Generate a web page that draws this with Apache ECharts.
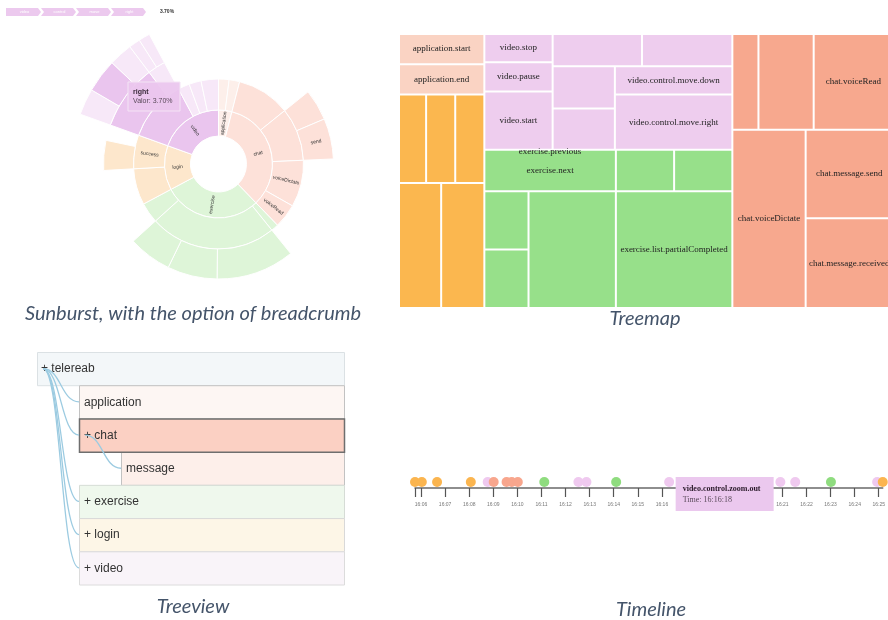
<!DOCTYPE html>
<html><head><meta charset="utf-8">
<script src="https://cdn.jsdelivr.net/npm/echarts@6/dist/echarts.min.js"></script>
<style>html,body{margin:0;padding:0;background:#fff;}#c{width:888px;height:620px;}</style>
</head><body><div id="c"></div>
<script>
// ---------------- DATA ----------------
// Sunburst: [name, share of events (%), children]
const sunApplication = ['application', 4.0, [['start', 2.0], ['end', 2.0]]];
const sunChat = ['chat', 33.8, [['', 10.2], ['message', 10.1, [['received', 4.4], ['send', 5.7]]], ['voiceDictate', 8.9], ['voiceRead', 4.6]]];
const sunExercise = ['exercise', 29.4, [['next', 1.4], ['list', 24.1, [['partialCompleted', 11.0], ['', 7.0], ['', 6.1]]], ['previous', 3.9]]];
const sunLogin = ['login', 13.3, [['', 6.9], ['success', 6.4, [['', 4.2]]]]];
const sunVideo = ['video', 19.5, [['control', 11.7, [['move', 9.2, [['left', 2.9], ['right', 3.7], ['down', 2.6]]], ['zoom', 2.5, [['in', 1.25], ['out', 1.25]]]]], ['stop', 2.2], ['pause', 2.3], ['start', 3.3]]];
const sunLabelled = ['application', 'chat', 'voiceDictate', 'voiceRead', 'send', 'exercise', 'login', 'success', 'video'];
const sunPath = ['video', 'control', 'move', 'right'];
const sunTipName = 'right';
const sunTipText = 'Valor: 3.70%';
const sunPathValue = '3.70%';

// Treemap: [name, value | children]
const tmApplication = ['application', [['application.start', 2550], ['application.end', 2550]]];
const tmLogin = ['login', [
  ['', [['', 2376], ['', [['', 2552], ['', 2552]]]]],
  ['', [['', 5208], ['', 5332]]]
]];
const tmVideo = ['video', [
  ['', [['', [['video.stop', 1904], ['video.pause', 1972]]], ['video.start', 3944]]],
  ['', [['', [['', 2848], ['', 2880]]], ['', [['', 2604], ['', 2542], ['video.control.move.down', 3276], ['video.control.move.right', 6435]]]]]
]];
const tmExercise = ['exercise', [
  ['', [['', [['exercise.previous', 1], ['exercise.next', 5370]]], ['', [['', 2378], ['', 2378]]]]],
  ['', [['', [['', 2552], ['', 2552], ['', 10092]]], ['exercise.list.partialCompleted', 13456]]]
]];
const tmChat = ['chat', [
  ['', [['', [['', 2470], ['', 5225]]], ['chat.voiceRead', 7505]]],
  ['', [['chat.voiceDictate', 12921], ['', [['chat.message.send', 7656], ['chat.message.received', 7743]]]]]
]];
const tmTinyLabels = ['exercise.previous'];

// Tree view
const treeNames = ['telereab', 'application', 'chat', 'message', 'exercise', 'login', 'video'];
const treeDepth = [0, 1, 1, 2, 1, 1, 1];
const treeParent = [-1, 0, 0, 2, 0, 0, 0];
const treeExpandable = [true, false, true, false, true, true, true];

// Timeline
const tlTimes = ['16:05:45','16:06:02','16:06:40','16:08:04','16:08:46','16:09:01','16:09:33','16:09:46','16:10:01','16:11:07','16:12:32','16:12:52','16:14:06','16:16:18','16:20:55','16:21:32','16:23:01','16:24:56','16:25:10'];
const tlCats = ['login','login','login','login','video','chat','chat','chat','chat','exercise','video','video','exercise','video','video','video','exercise','video','login'];
const tlDomain = ['16:05:45', '16:25:10'];
const tlTickLabels = ['16:06','16:07','16:08','16:09','16:10','16:11','16:12','16:13','16:14','16:15','16:16','16:17','16:18','16:19','16:20','16:21','16:22','16:23','16:24','16:25'];
const tlTipName = 'video.control.zoom.out';
const tlTipTime = '16:16:18';

const captions = ['Sunburst, with the option of breadcrumb', 'Treemap', 'Treeview', 'Timeline'];

// ---------------- STYLES ----------------
const sunPale = {application:'#fdefea', chat:'#fde1d9', exercise:'#def5d8', login:'#fde7cc', video:'#f7e8f8'};
const sunHighlight = '#eac5ee';
const tmColor = {application:'#fad3c3', login:'#fbb74f', video:'#eecdee', exercise:'#97e08a', chat:'#f7a88e'};
const tlColor = {login:'#fbb54f', chat:'#f8a68d', video:'#efc9ef', exercise:'#8fdc7f'};
const treeStyle = {
  telereab:{fill:'#f3f7f9', stroke:'#dbe1e4', lw:1, z:1},
  application:{fill:'#fdf6f3', stroke:'#c2c2c2', lw:1, z:1},
  chat:{fill:'#fbd0c3', stroke:'#6e6e6e', lw:1.5, z:5},
  message:{fill:'#fdefea', stroke:'#c2c2c2', lw:1, z:1},
  exercise:{fill:'#eff8ed', stroke:'#d6dcd6', lw:1, z:1},
  login:{fill:'#fdf6e7', stroke:'#d9d9d9', lw:1, z:1},
  video:{fill:'#f9f4f9', stroke:'#dcdcdc', lw:1, z:1}
};

// ---------------- BUILD ----------------
function sunNode(n, cat, depth, onPath) {
  const name = n[0], value = n[1], kids = n[2];
  const hl = onPath && name === sunPath[depth];
  const item = {
    name: name, value: value,
    itemStyle: {color: hl ? sunHighlight : sunPale[cat]},
    label: {show: sunLabelled.indexOf(name) >= 0 && name !== ''}
  };
  if (kids) item.children = kids.map(k => sunNode(k, cat, depth + 1, hl));
  return item;
}
const sunData = [sunApplication, sunChat, sunExercise, sunLogin, sunVideo]
  .map(n => sunNode(n, n[0], 0, true));

function tmNode(n) {
  const name = n[0], v = n[1];
  if (Array.isArray(v)) return {name: name, children: v.map(tmNode)};
  const o = {name: name, value: v};
  if (tmTinyLabels.indexOf(name) >= 0) o.label = {show: false};
  return o;
}
const tmData = [tmApplication, tmLogin, tmVideo, tmExercise, tmChat].map(c => ({
  name: c[0], itemStyle: {color: tmColor[c[0]]}, children: c[1].map(tmNode)
}));

function toMin(t) { const p = t.split(':').map(Number); return (p[0] - 16) * 60 + p[1] + (p[2] || 0) / 60; }
const tlLabelVals = tlTickLabels.map(toMin);
const tlTickVals = [toMin(tlDomain[0])].concat(tlLabelVals);

const treeBoxData = treeNames.map((n, i) => [treeDepth[i], i]);
const treeLinkData = [];
treeNames.forEach((n, i) => { if (treeParent[i] >= 0) treeLinkData.push([treeDepth[treeParent[i]], treeParent[i], treeDepth[i], i]); });

const captionFont = 'italic 20px Lato';
const capStyle = (t) => ({text:t, font:captionFont, fill:'#44546a', textAlign:'center', textVerticalAlign:'middle'});
const graphics = [
  {type:'text', x:193, y:314, style:capStyle(captions[0])},
  {type:'text', x:645, y:319, style:capStyle(captions[1])},
  {type:'text', x:193, y:607, style:capStyle(captions[2])},
  {type:'text', x:651, y:610, style:capStyle(captions[3])},
  // sunburst tooltip
  {type:'rect', shape:{x:128, y:82, width:52, height:29}, style:{fill:'rgba(234,197,238,0.92)', stroke:'#f4e4f5', lineWidth:1}, z:100},
  {type:'text', x:133, y:92, style:{text:sunTipName, font:'bold 7px "Liberation Sans"', fill:'#3a2a3a', textVerticalAlign:'middle'}, z:101},
  {type:'text', x:133, y:101, style:{text:sunTipText, font:'7px "Liberation Sans"', fill:'#5a4a5a', textVerticalAlign:'middle'}, z:101},
  // exercise.previous label (cell too thin to hold it)
  {type:'text', x:550, y:152, style:{text:tmTinyLabels[0], font:'9px "Liberation Serif"', fill:'#222', textAlign:'center', textVerticalAlign:'middle'}, z:100}
];
// breadcrumb
const bcX0 = 6, bcPitch = 35, bcW = 32, bcTip = 3, bcY = 8, bcH = 8;
sunPath.forEach((name, i) => {
  const x = bcX0 + i * bcPitch, y = bcY, w = bcW, h = bcH, t = bcTip;
  const pts = i === 0
    ? [[x,y],[x+w,y],[x+w+t,y+h/2],[x+w,y+h],[x,y+h]]
    : [[x,y],[x+w,y],[x+w+t,y+h/2],[x+w,y+h],[x,y+h],[x+t,y+h/2]];
  graphics.push({type:'polygon', shape:{points:pts}, style:{fill:'#ecc9ee'}, z:50});
  graphics.push({type:'text', x:x + (w + t) / 2 + 1, y:y + h / 2, style:{text:name, font:'4px "Liberation Sans"', fill:'#fff', textAlign:'center', textVerticalAlign:'middle'}, z:51});
});
graphics.push({type:'text', x:bcX0 + sunPath.length * bcPitch + 21, y:bcY + bcH / 2, style:{text:sunPathValue, font:'bold 5px "Liberation Sans"', fill:'#333', textAlign:'center', textVerticalAlign:'middle'}, z:51});

const chart = echarts.init(document.getElementById('c'), null, {renderer:'canvas'});
const option = {
  animation: false,
  backgroundColor: '#ffffff',
  grid: [
    {left:37, top:352, width:308, height:232.5},
    {left:415, top:476, width:470, height:12}
  ],
  xAxis: [
    {gridIndex:0, type:'value', min:0, max:308 / 42, show:false},
    {gridIndex:1, type:'value', min:toMin(tlDomain[0]), max:toMin(tlDomain[1]),
      axisLine:{show:true, onZero:false, lineStyle:{color:'#6a6a6a', width:1.5}},
      axisTick:{show:true, customValues:tlTickVals, length:9, lineStyle:{color:'#555', width:1.2}},
      axisLabel:{show:true, customValues:tlLabelVals, fontSize:5, color:'#777', margin:14,
        formatter:function (v) { for (let i = 0; i < tlLabelVals.length; i++) { if (Math.abs(tlLabelVals[i] - v) < 1e-6) return tlTickLabels[i]; } return ''; }},
      splitLine:{show:false}}
  ],
  yAxis: [
    {gridIndex:0, type:'value', min:0, max:treeNames.length, inverse:true, show:false},
    {gridIndex:1, type:'value', min:0, max:1, show:false}
  ],
  series: [
    {
      type:'sunburst', center:[218.5, 164], radius:[28, 147], sort:null, startAngle:90,
      nodeClick:false, silent:true, emphasis:{disabled:true},
      itemStyle:{borderColor:'#ffffff', borderWidth:1},
      label:{rotate:'radial', fontSize:5, color:'#333', fontFamily:'Liberation Sans'},
      levels:[{}, {r0:28, r:54}, {r0:54, r:85}, {r0:85, r:115}, {r0:115, r:147}],
      data: sunData
    },
    {
      type:'treemap', left:400, top:35, width:492, height:272, sort:false,
      roam:false, nodeClick:false, silent:true, breadcrumb:{show:false},
      emphasis:{disabled:true},
      itemStyle:{borderWidth:0, gapWidth:2, borderColor:'#ffffff'},
      label:{show:true, position:'inside', formatter:'{b}', color:'#222', fontFamily:'Liberation Serif', fontSize:9, overflow:'none', padding:0},
      upperLabel:{show:false},
      data: tmData
    },
    {
      type:'custom', xAxisIndex:0, yAxisIndex:0, z:2, silent:true,
      data: treeBoxData,
      renderItem: function (params, api) {
        const i = params.dataIndex;
        const d = api.value(0), r = api.value(1);
        const p0 = api.coord([d, r]), p1 = api.coord([d, r + 1]);
        const cs = params.coordSys;
        const right = cs.x + cs.width;
        const st = treeStyle[treeNames[i]];
        const label = (treeExpandable[i] ? '+ ' : '') + treeNames[i];
        return {type:'group', children:[
          {type:'rect', z2:st.z, shape:{x:p0[0] + 0.5, y:p0[1] + 0.5, width:right - p0[0] - 1, height:p1[1] - p0[1]},
            style:{fill:st.fill, stroke:st.stroke, lineWidth:st.lw}},
          {type:'text', z2:st.z + 1, style:{text:label, x:p0[0] + (d === 0 ? 4 : 5), y:(p0[1] + p1[1]) / 2 + 0.5,
            verticalAlign:'middle', font:'12px "Liberation Sans"', fill:'#333'}}
        ]};
      }
    },
    {
      type:'custom', xAxisIndex:0, yAxisIndex:0, z:3, silent:true,
      data: treeLinkData,
      renderItem: function (params, api) {
        const s = api.coord([api.value(0), api.value(1) + 0.5]);
        const e = api.coord([api.value(2), api.value(3) + 0.5]);
        const sx = s[0] + 6;
        const mx = (sx + e[0]) / 2;
        return {type:'bezierCurve', shape:{x1:sx, y1:s[1], x2:e[0], y2:e[1], cpx1:mx, cpy1:s[1], cpx2:mx, cpy2:e[1]},
          style:{stroke:'#9ccbe1', lineWidth:1.3, fill:'none'}};
      }
    },
    {
      type:'scatter', xAxisIndex:1, yAxisIndex:1, symbolSize:10, clip:false, silent:true, z:4,
      data: tlTimes.map((t, i) => ({value:[toMin(t), 0.5], itemStyle:{color:tlColor[tlCats[i]], opacity:1}}))
    }
  ],
  graphic: graphics
};
chart.setOption(option);

// timeline tooltip placed next to its event through the axis scale
const tipPx = chart.convertToPixel({gridIndex:1}, [toMin(tlTipTime), 0.5]);
const bx = tipPx[0] + 6.5, by = 477;
chart.setOption({graphic: graphics.concat([
  {type:'rect', shape:{x:bx, y:by, width:98, height:34}, style:{fill:'#ebc8ee'}, z:120},
  {type:'text', x:bx + 7, y:by + 12, style:{text:tlTipName, font:'bold 8px "Liberation Serif"', fill:'#2a1a2a', textVerticalAlign:'middle'}, z:121},
  {type:'text', x:bx + 7, y:by + 23, style:{text:'Time: ' + tlTipTime, font:'8px "Liberation Serif"', fill:'#5a4a5a', textVerticalAlign:'middle'}, z:121}
])});
</script>
</body></html>
